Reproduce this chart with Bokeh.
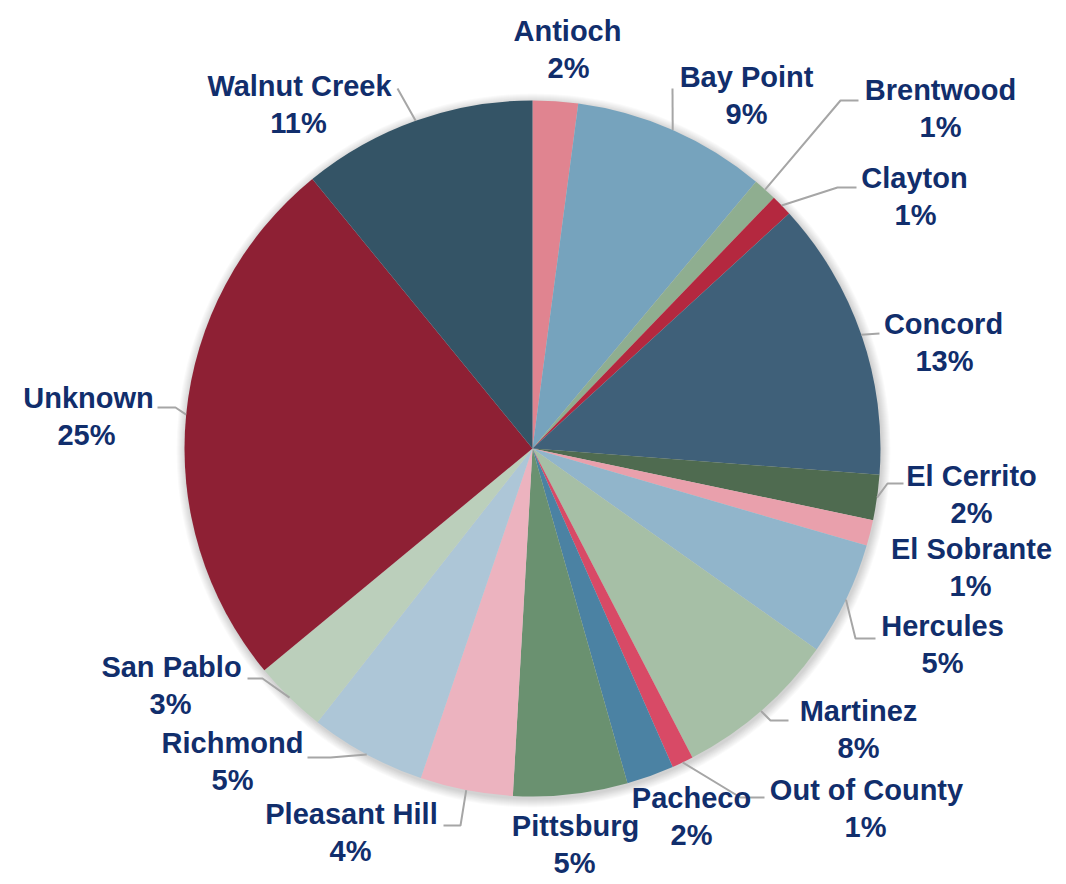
import math
from bokeh.plotting import figure
from bokeh.models import ColumnDataSource, Range1d
from bokeh.core.properties import value
from bokeh.embed import file_html
from bokeh.resources import INLINE

# ---- data ----
categories = ["Antioch", "Bay Point", "Brentwood", "Clayton", "Concord", "El Cerrito",
              "El Sobrante", "Hercules", "Martinez", "Out of County", "Pacheco",
              "Pittsburg", "Pleasant Hill", "Richmond", "San Pablo", "Unknown", "Walnut Creek"]
shares = [2.1, 9.0, 1.1, 1.0, 13.0, 2.1, 1.2, 5.3, 7.6, 1.0, 2.2, 5.3, 4.3, 5.4, 3.4, 25.1, 10.9]
colors = ["#e08490", "#76a3bd", "#8fae90", "#b4283f", "#3f6079", "#4f6b50", "#e9a0ac",
          "#91b5cb", "#a6bfa6", "#d84a66", "#4b82a3", "#6a9170", "#ecb3bf", "#adc6d7",
          "#bbcfbb", "#8e2034", "#345466"]

# ---- layout (screen pixels of the picture) ----
W, H = 1058, 882
def X(px): return px
def Y(py): return H - py

CX, CY, R = 532, 448, 348
# label centre (name line), pct line x, and leader elbow points (screen px)
label_pos = {
    "Antioch": (567, 30, 568, []),
    "Bay Point": (746, 76, 746, [(672, 88)]),
    "Brentwood": (940, 89, 940, [(840, 100), (858, 100)]),
    "Clayton": (914, 177, 915, [(837, 187), (856, 187)]),
    "Concord": (943, 323, 944, [(879, 333)]),
    "El Cerrito": (971, 475, 971, [(887, 483), (903, 483)]),
    "El Sobrante": (971, 548, 970, []),
    "Hercules": (942, 625, 942, [(855, 638), (875, 638)]),
    "Martinez": (858, 710, 858, [(770, 720), (788, 720)]),
    "Out of County": (866, 789, 865, [(740, 797), (764, 797)]),
    "Pacheco": (691, 797, 691, []),
    "Pittsburg": (575, 825, 574, []),
    "Pleasant Hill": (351, 813, 350, [(460, 825), (443, 825)]),
    "Richmond": (232, 742, 232, [(330, 757), (307, 757)]),
    "San Pablo": (171, 666, 170, [(262, 678), (247, 678)]),
    "Unknown": (88, 397, 86, [(175, 407), (157, 407)]),
    "Walnut Creek": (299, 85, 298, [(397, 88)]),
}
LINE_GAP = 37

total = sum(shares)
starts, ends, mids = [], [], []
acc = 0.0
for s in shares:
    a0 = acc / total
    acc += s
    a1 = acc / total
    starts.append(math.pi / 2 - 2 * math.pi * a0)
    ends.append(math.pi / 2 - 2 * math.pi * a1)
    mids.append(math.pi / 2 - 2 * math.pi * (a0 + a1) / 2)

src = ColumnDataSource(dict(cat=categories, share=shares, color=colors,
                            start=starts, end=ends))

p = figure(width=W, height=H, output_backend="svg", toolbar_location=None,
           x_range=Range1d(0, W), y_range=Range1d(0, H), min_border=0)
p.axis.visible = False
p.grid.visible = False
p.outline_line_color = None
p.background_fill_color = "white"
p.border_fill_color = "white"

# soft shadow around the pie
for k in range(1, 10):
    p.circle(x=X(CX + 1), y=Y(CY + 2), radius=R + k, fill_color="#000000",
             fill_alpha=0.018, line_color=None)

p.wedge(x=X(CX), y=Y(CY), radius=R, start_angle="start", end_angle="end",
        direction="clock", fill_color="color", line_color=None, source=src)

# leader lines
for cat, m in zip(categories, mids):
    lx, ly, px2, elbows = label_pos[cat]
    if not elbows:
        continue
    sx = CX + R * math.cos(m)
    sy = CY - R * math.sin(m)
    xs = [X(sx)] + [X(e[0]) for e in elbows]
    ys = [Y(sy)] + [Y(e[1]) for e in elbows]
    p.line(xs, ys, line_color="#a6a6a6", line_width=2)

# labels
names_x = [X(label_pos[c][0]) for c in categories]
names_y = [Y(label_pos[c][1]) for c in categories]
pct_x = [X(label_pos[c][2]) for c in categories]
pct_y = [Y(label_pos[c][1] + LINE_GAP) for c in categories]
pct_txt = [f"{round(s / total * 100)}%" for s in shares]

common = dict(text_font=value("Liberation Sans"), text_font_style="bold",
              text_font_size="29px", text_color="#112e6c", text_align="center",
              text_baseline="middle")
p.text(x=names_x, y=names_y, text=categories, **common)
p.text(x=pct_x, y=pct_y, text=pct_txt, **common)

open("out.html", "w").write(file_html(p, INLINE))
